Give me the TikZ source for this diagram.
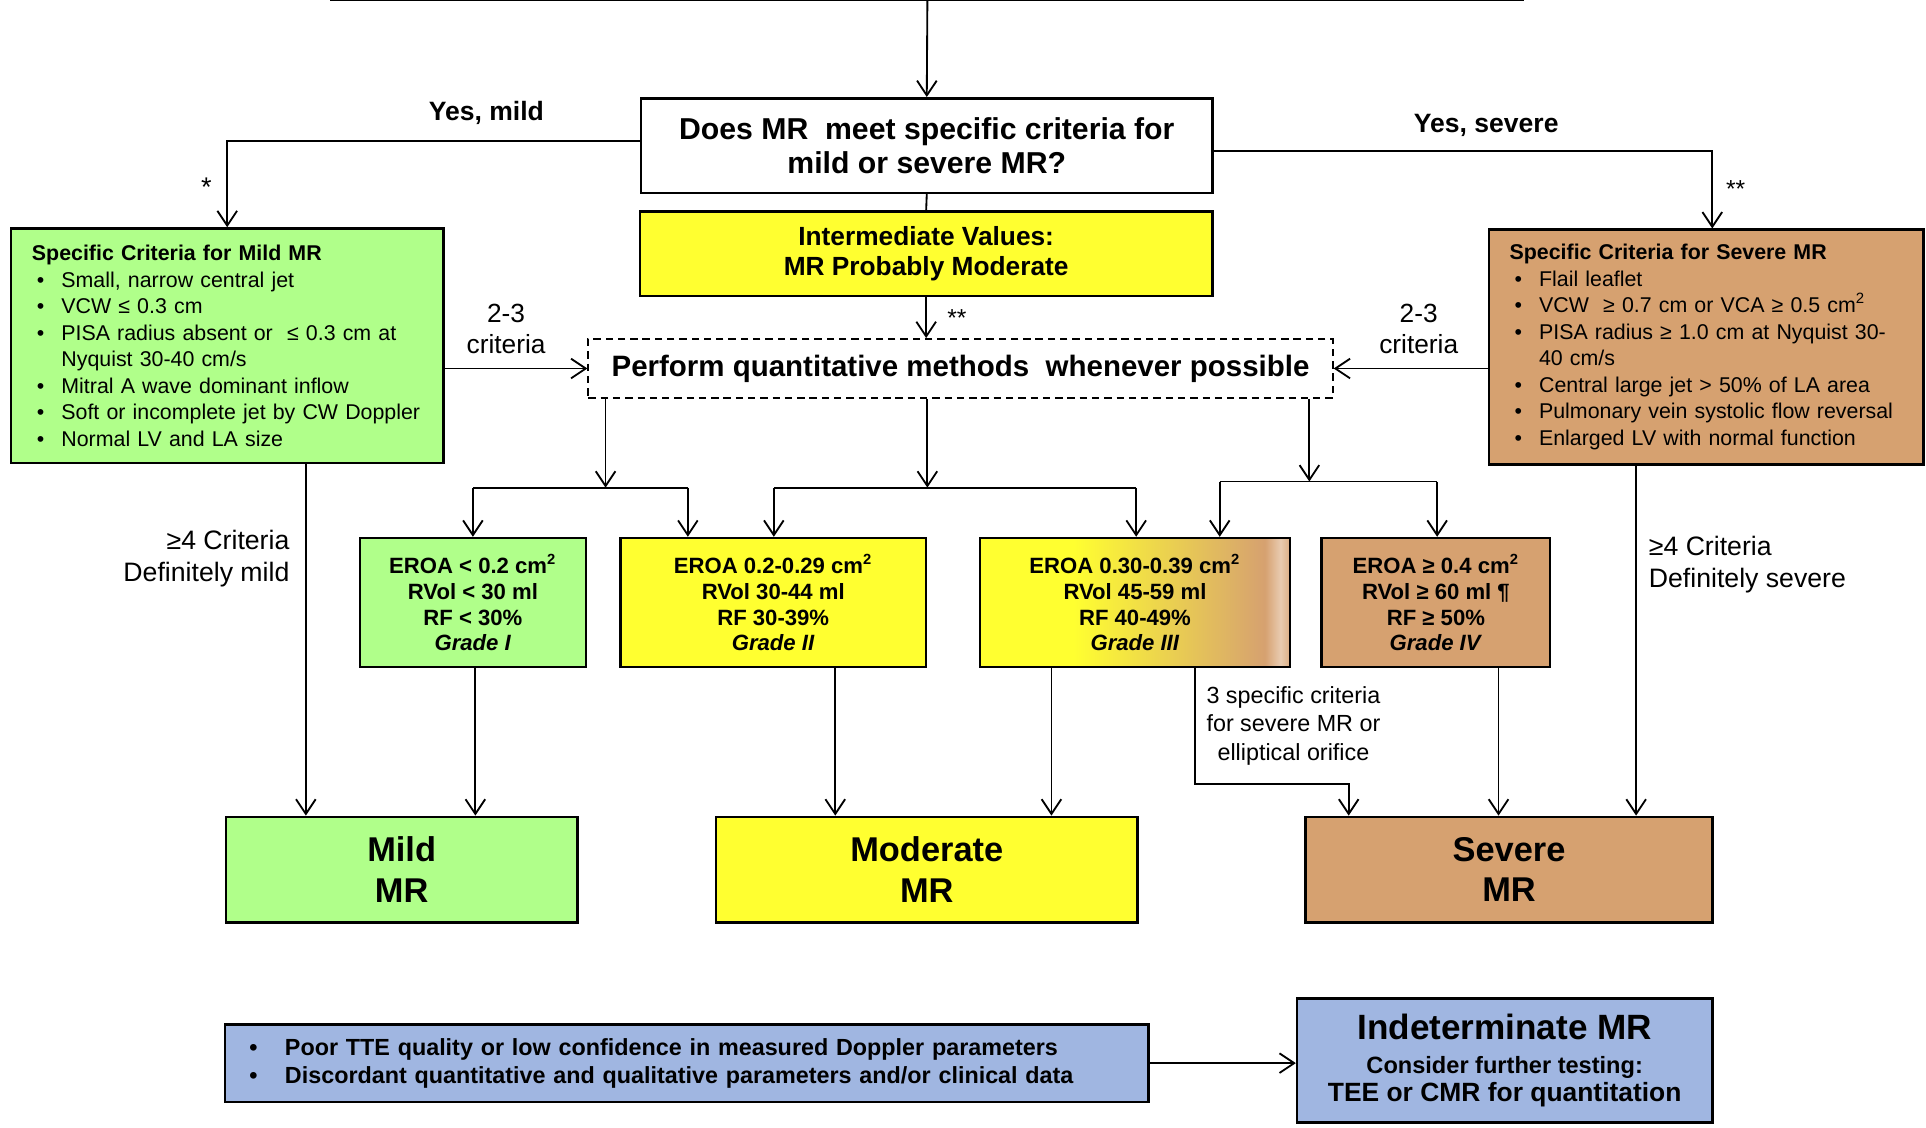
\documentclass[tikz,border=0pt]{standalone}
\usepackage{fontspec}
\setmainfont{Liberation Sans}
\usetikzlibrary{arrows.meta,calc}
\definecolor{gc}{RGB}{176,255,138}
\definecolor{yc}{RGB}{255,255,48}
\definecolor{tc}{RGB}{214,161,112}
\definecolor{bc}{RGB}{160,182,225}
\colorlet{tcl}{tc!55!white}
\colorlet{tcm}{tc!85!white}
\pgfdeclarehorizontalshading{gthree}{100bp}{color(0bp)=(yc); color(25bp)=(yc); color(40bp)=(yc); color(71bp)=(tc); color(73.5bp)=(tcl); color(75bp)=(tcm); color(100bp)=(tc)}
\newcommand\bul{\hspace*{2pt}\makebox[10pt][l]{\textbullet}}
\newcommand\cont{\hspace*{12pt}}
\newcommand\bbul{\makebox[14.5pt][l]{\textbullet}}
\begin{document}
\begin{tikzpicture}[x=0.5pt,y=-0.5pt,
  box/.style={draw=black, line width=1pt, rectangle, inner sep=0pt, align=center},
  conn/.style={line width=0.75pt},
  arr/.style={conn, -{Straight Barb[length=6pt,width=8pt]}},
  lab/.style={inner sep=0pt, align=center}]
\useasboundingbox (0,0) rectangle (1568,918);
\fill[white] (0,0) rectangle (1568,918);

% top (cut-off) box
\node[draw, line width=1pt, minimum width=485pt, minimum height=40pt, inner sep=0pt, anchor=south] (top) at (755,1) {};

% main boxes
\node[box, minimum width=232.5pt, minimum height=38.5pt, font=\bfseries\fontsize{12.3}{14}\selectfont] (q) at (754.5,118.5) {Does MR~ meet specific criteria for\\mild or severe MR?};
\node[box, fill=yc, minimum width=233pt, minimum height=34.5pt, font=\bfseries\fontsize{10.7}{12.5}\selectfont] (inter) at (754,206.5) {Intermediate Values:\\MR Probably Moderate};
\node[box, dashed, dash pattern=on 3pt off 2pt, line width=0.75pt, minimum width=303pt, minimum height=24pt, font=\bfseries\fontsize{12}{14}\selectfont] (perf) at (782,300) {Perform quantitative methods~ whenever possible};

\node[box, fill=gc, minimum width=176pt, minimum height=95.5pt, text width=159pt, align=left, font=\fontsize{8.7}{10.8}\selectfont] (mildc) at (185,281.5) {\textbf{Specific Criteria for Mild MR}\\
\bul Small, narrow central jet\\
\bul VCW ≤ 0.3 cm\\
\bul PISA radius absent or~ ≤ 0.3 cm at\\
\cont Nyquist 30-40 cm/s\\
\bul Mitral A wave dominant inflow\\
\bul Soft or incomplete jet by CW Doppler\\
\bul Normal LV and LA size};

\node[box, fill=tc, minimum width=177pt, minimum height=95.5pt, text width=160pt, align=left, font=\fontsize{8.7}{10.8}\selectfont] (sevc) at (1389,282.5) {\textbf{Specific Criteria for Severe MR}\\
\bul Flail leaflet\\
\bul VCW~ ≥ 0.7 cm or VCA ≥ 0.5 cm\textsuperscript{2}\\
\bul PISA radius ≥ 1.0 cm at Nyquist 30-\\
\cont 40 cm/s\\
\bul Central large jet > 50\% of LA area\\
\bul Pulmonary vein systolic flow reversal\\
\bul Enlarged LV with normal function};

% grade boxes
\tikzset{grade/.style={box, minimum height=52.5pt, font=\bfseries\fontsize{9}{10.5}\selectfont}}
\node[grade, fill=gc, minimum width=92pt] (g1) at (385,490.5) {EROA < 0.2 cm\textsuperscript{2}\\RVol < 30 ml\\RF < 30\%\\\textit{Grade I}};
\node[grade, fill=yc, minimum width=124.5pt] (g2) at (629.5,490.5) {EROA 0.2-0.29 cm\textsuperscript{2}\\RVol 30-44 ml\\RF 30-39\%\\\textit{Grade II}};
\node[grade, shade, shading=gthree, minimum width=126pt] (g3) at (924,490.5) {EROA 0.30-0.39 cm\textsuperscript{2}\\RVol 45-59 ml\\RF 40-49\%\\\textit{Grade III}};
\node[grade, fill=tc, minimum width=93pt] (g4) at (1169,490.5) {EROA ≥ 0.4 cm\textsuperscript{2}\\RVol ≥ 60 ml ¶\\RF ≥ 50\%\\\textit{Grade IV}};

% final boxes
\tikzset{final/.style={box, minimum height=43pt, font=\bfseries\fontsize{14}{16.5}\selectfont}}
\node[final, fill=gc, minimum width=143pt] (mild) at (327,708) {Mild\\MR};
\node[final, fill=yc, minimum width=171.5pt] (mod) at (754.5,708) {Moderate\\MR};
\node[final, fill=tc, minimum width=165.5pt] (sev) at (1228.5,708) {Severe\\MR};

% bottom
\node[box, fill=bc, minimum width=376pt, minimum height=31.5pt, text width=356pt, align=left, font=\bfseries\fontsize{9.5}{11.5}\selectfont] (blue) at (559,865.5) {\bbul Poor TTE quality or low confidence in measured Doppler parameters\\\bbul Discordant quantitative and qualitative parameters and/or clinical data};
\node[box, fill=bc, minimum width=169pt, minimum height=50.5pt, font=\bfseries\fontsize{9.5}{11.5}\selectfont] (ind) at (1225,863.5) {{\fontsize{14.3}{14.3}\selectfont Indeterminate MR}\\[2pt]{\fontsize{9.6}{11}\selectfont Consider further testing:}\\{\fontsize{10.75}{11.5}\selectfont TEE or CMR for quantitation}};

% connectors top
\draw[arr] (top.south) -- (q.north);
\draw[arr] ([yshift=1.75pt]q.west) -| (mildc.north);
\draw[arr] ([yshift=-2.25pt]q.east) -| ([xshift=2.5pt]sevc.north);
\draw[conn] (q.south) -- (inter.north);
\draw[arr] (inter.south) -- (inter.south |- perf.north);
\draw[arr] (mildc.east |- perf.west) -- (perf.west);
\draw[arr] (sevc.west |- perf.east) -- (perf.east);

% branches
\coordinate (j1) at (493,397);
\coordinate (j2) at (755,397);
\coordinate (j3) at (1066,392);
\coordinate (b1) at (385,397);
\coordinate (b2) at (560,397);
\coordinate (b3) at (630,397);
\coordinate (b4) at (925,397);
\coordinate (b5) at (993,392);
\coordinate (b6) at (1170,392);
\draw[arr] (perf.south -| j1) -- (j1);
\draw[arr] (perf.south -| j2) -- (j2);
\draw[arr] (perf.south -| j3) -- (j3);
\draw[conn] (b1) -- (b2);
\draw[conn] (b3) -- (b4);
\draw[conn] (b5) -- (b6);
\draw[arr] (b1) -- (b1 |- g1.north);
\draw[arr] (b2) -- (b2 |- g2.north);
\draw[arr] (b3) -- (b3 |- g2.north);
\draw[arr] (b4) -- (b4 |- g3.north);
\draw[arr] (b5) -- (b5 |- g3.north);
\draw[arr] (b6) -- (b6 |- g4.north);

% lower connectors
\coordinate (d1) at (249,0);
\coordinate (d2) at (387,0);
\coordinate (d3) at (680,0);
\coordinate (d4) at (856,0);
\coordinate (d5) at (973,0);
\coordinate (e1) at (1098,638);
\coordinate (d7) at (1220,0);
\coordinate (d8) at (1332,0);
\draw[arr] (mildc.south -| d1) -- (mild.north -| d1);
\draw[arr] (g1.south -| d2) -- (mild.north -| d2);
\draw[arr] (g2.south -| d3) -- (mod.north -| d3);
\draw[arr] (g3.south -| d4) -- (mod.north -| d4);
\draw[arr] (g3.south -| d5) |- (e1) -- (e1 |- sev.north);
\draw[arr] (g4.south -| d7) -- (sev.north -| d7);
\draw[arr] (sevc.south -| d8) -- (sev.north -| d8);
\draw[arr] (blue.east) -- (blue.east -| ind.west);

% labels
\node[lab, font=\bfseries\fontsize{10.8}{13}\selectfont] (ymild) at (396,92) {Yes, mild};
\node[lab, font=\bfseries\fontsize{10.8}{13}\selectfont] (ysev) at (1210,102) {Yes, severe};
\node[lab, font=\fontsize{11}{12}\selectfont] (st1) at (168,152) {*};
\node[lab, font=\fontsize{10}{12}\selectfont] (st2) at (1413,154) {**};
\node[lab, font=\fontsize{10}{12}\selectfont] (st3) at (779,259) {**};
\node[lab, font=\fontsize{10.7}{12.5}\selectfont] (cr1) at (412,268) {2-3\\criteria};
\node[lab, font=\fontsize{10.7}{12.5}\selectfont] (cr2) at (1155,268) {2-3\\criteria};
\node[lab, anchor=east, align=right, font=\fontsize{10.85}{13}\selectfont] (dm) at (236,455) {≥4 Criteria\\Definitely mild};
\node[lab, anchor=west, align=left, font=\fontsize{10.85}{13}\selectfont] (ds) at (1342,460) {≥4 Criteria\\Definitely severe};
\node[lab, font=\fontsize{9.5}{11.5}\selectfont] (sc) at (1053,591) {3 specific criteria\\for severe MR or\\elliptical orifice};
\end{tikzpicture}
\end{document}
